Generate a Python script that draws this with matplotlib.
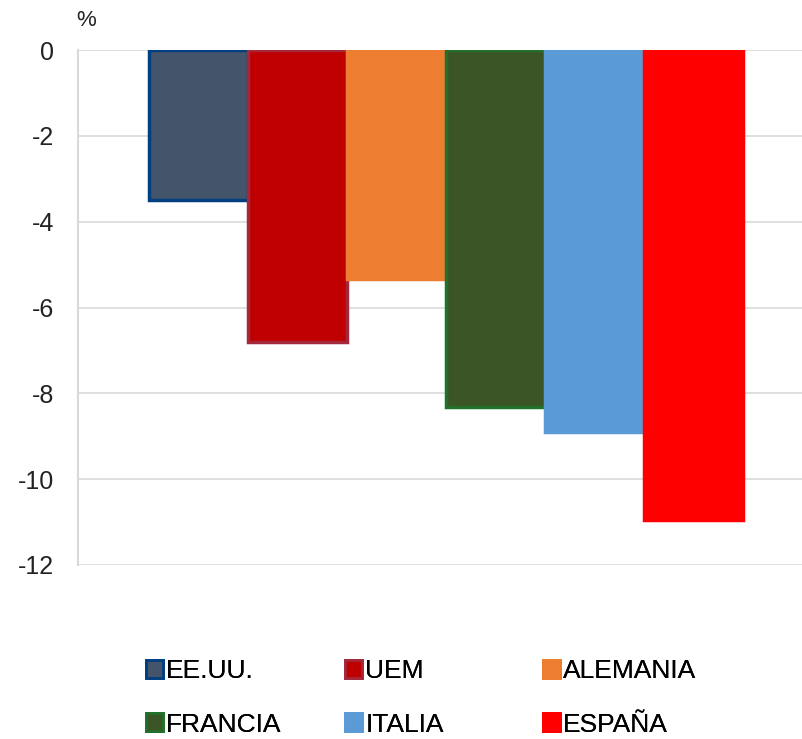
import matplotlib.pyplot as plt
from matplotlib.patches import Patch

countries = ["EE.UU.", "UEM", "ALEMANIA", "FRANCIA", "ITALIA", "ESPAÑA"]
values = [-3.5, -6.8, -5.33, -8.33, -8.9, -10.95]
face_colors = ["#44546A", "#C00000", "#ED7D31", "#3B5526", "#5B9BD5", "#FF0000"]
edge_colors = ["#003F80", "#A5283A", "#ED7D31", "#22702A", "#5B9BD5", "#FF0000"]
y_ticks = [0, -2, -4, -6, -8, -10, -12]

plt.rcParams["font.family"] = ["Liberation Sans", "DejaVu Sans"]

fig = plt.figure(figsize=(8.03, 7.39), dpi=100)
ax = fig.add_axes([78 / 803, 1 - 565 / 739, 1 - 78 / 803, (565 - 50) / 739])

positions = list(range(len(countries)))
for pos, val, fc, ec in zip(positions, values, face_colors, edge_colors):
    ax.bar(pos, val, width=1.0, color=fc, edgecolor=ec, linewidth=2.5, zorder=3)

ax.set_xlim(-1.222, 6.101)
ax.set_ylim(-12, 0)
ax.set_yticks(y_ticks)
ax.set_yticklabels([str(t) for t in y_ticks], fontsize=18, color="#222222")
ax.tick_params(axis="y", length=0, pad=17)
ax.set_xticks([])
ax.yaxis.grid(True, color="#D9D9D9", linewidth=1.2, zorder=0)
for side in ["top", "right", "bottom"]:
    ax.spines[side].set_visible(False)
ax.spines["left"].set_color("#D9D9D9")
ax.spines["left"].set_linewidth(1.5)
ax.spines["left"].set_bounds(-12, 0)

fig.text(76 / 803, 1 - 21 / 739, "%", fontsize=16, color="#222222", ha="left", va="center")

# legend laid out row by row: one small legend per column
handles = [Patch(facecolor=fc, edgecolor=ec, linewidth=2.0)
           for fc, ec in zip(face_colors, edge_colors)]
col_x = [146, 345, 543]
for col in range(3):
    idx = [col, col + 3]
    leg = fig.legend([handles[i] for i in idx], [countries[i] for i in idx],
                     loc="upper left", bbox_to_anchor=(col_x[col] / 803, 1 - 659 / 739),
                     frameon=False, fontsize=19, handlelength=0.65, handleheight=0.65,
                     handletextpad=0.12, labelspacing=1.12, borderpad=0, borderaxespad=0)
    fig.add_artist(leg)

fig.savefig("out.png", dpi=100, facecolor="white")
